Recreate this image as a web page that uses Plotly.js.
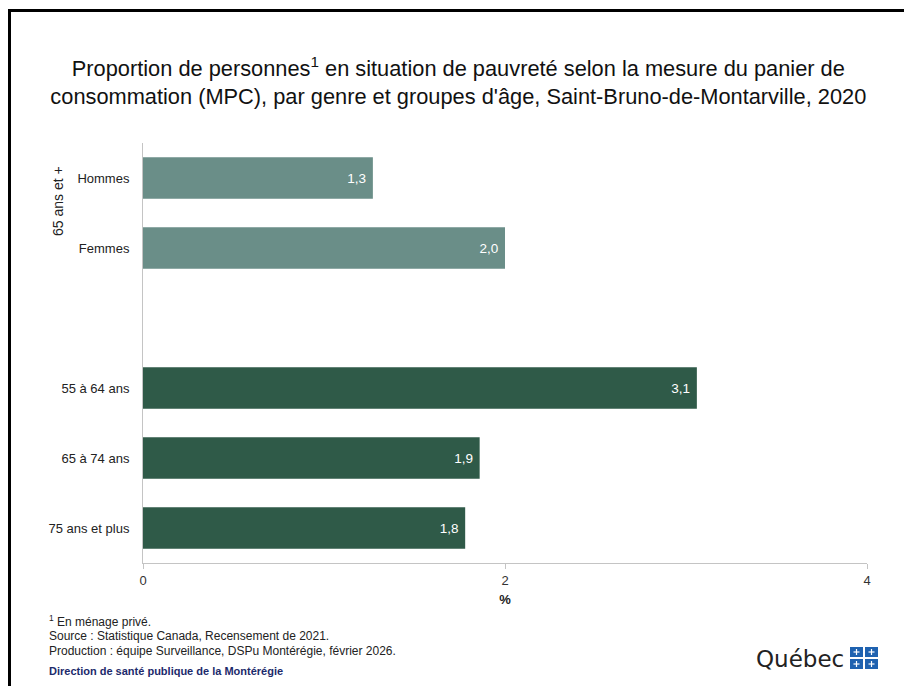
<!DOCTYPE html>
<html>
<head>
<meta charset="utf-8">
<script src="https://cdn.plot.ly/plotly-3.0.1.min.js"></script>
<style>html,body{margin:0;padding:0;background:#fff;}#chart{width:904px;height:686px;}</style>
</head>
<body>
<div id="chart"></div>
<script>
// Data
const categories = ['Hommes', 'Femmes', ' ', '55 à 64 ans', '65 à 74 ans', '75 ans et plus'];
const values = [1.27, 2.0, null, 3.06, 1.86, 1.78];
const xTicks = [0, 2, 4];
const groupLabel = '65 ans et +';
const titleText = 'Proportion de personnes<sup>1</sup> en situation de pauvreté selon la mesure du panier de<br>consommation (MPC), par genre et groupes d\'âge, Saint-Bruno-de-Montarville, 2020';
const notes = [
  '<sup>1</sup> En ménage privé.',
  'Source : Statistique Canada, Recensement de 2021.',
  'Production : équipe Surveillance, DSPu Montérégie, février 2026.'
];
const credit = 'Direction de santé publique de la Montérégie';

// Styles
const LIGHT = '#6a8e88', DARK = '#2f5a48';
const barColors = [LIGHT, LIGHT, LIGHT, DARK, DARK, DARK];
const SANS = '"Liberation Sans", Arial, sans-serif';

// pixel -> paper helpers (plot area: x 143..867, y 143..563)
const L = 143, R = 867, T = 143, B = 563;
const px = v => (v - L) / (R - L);
const py = v => (B - v) / (B - T);

const trace = {
  type: 'bar',
  orientation: 'h',
  y: categories,
  x: values,
  marker: {color: barColors, line: {width: 0}},
  width: 0.59,
  texttemplate: '%{x:.1f}\u00a0',
  textposition: 'inside',
  insidetextanchor: 'end',
  textfont: {family: SANS, size: 13.5, color: '#ffffff'},
  hoverinfo: 'skip',
  cliponaxis: false
};

const annotations = notes.map((t, i) => ({
  xref: 'paper', yref: 'paper', x: px(47), y: py(621 + 15 * i),
  xanchor: 'left', yanchor: 'middle', showarrow: false, align: 'left',
  text: t, font: {family: SANS, size: 12, color: '#222'}
}));
annotations.push({
  xref: 'paper', yref: 'paper', x: px(47), y: py(671),
  xanchor: 'left', yanchor: 'middle', showarrow: false,
  text: '<b>' + credit + '</b>', font: {family: SANS, size: 11, color: '#1c2a6b'}
});
annotations.push({
  xref: 'paper', yref: 'paper', x: px(58), y: py(201),
  xanchor: 'center', yanchor: 'middle', showarrow: false, textangle: -90,
  text: groupLabel, font: {family: SANS, size: 14, color: '#222'}
});
annotations.push({
  xref: 'paper', yref: 'paper', x: px(846), y: py(659),
  xanchor: 'right', yanchor: 'middle', showarrow: false,
  text: 'Québec', font: {family: '"DejaVu Sans", sans-serif', size: 23, color: '#222'}
});

const shapes = [
  {type: 'rect', xref: 'paper', yref: 'paper', x0: px(9.5), x1: px(1000), y0: py(10.5), y1: py(900),
   line: {color: '#000', width: 3}, fillcolor: 'rgba(0,0,0,0)', layer: 'above'}
];
// Québec flag squares
const sq = [[850, 647], [865, 647], [850, 659], [865, 659]];
sq.forEach(([x, y]) => {
  shapes.push({type: 'rect', xref: 'paper', yref: 'paper', x0: px(x), x1: px(x + 13), y0: py(y), y1: py(y + 10),
    line: {width: 0}, fillcolor: '#1f62b0'});
  shapes.push({type: 'line', xref: 'paper', yref: 'paper', x0: px(x + 6.5), x1: px(x + 6.5), y0: py(y + 2), y1: py(y + 8),
    line: {color: '#fff', width: 1.2}});
  shapes.push({type: 'line', xref: 'paper', yref: 'paper', x0: px(x + 3.5), x1: px(x + 9.5), y0: py(y + 5), y1: py(y + 5),
    line: {color: '#fff', width: 1.2}});
});

const layout = {
  width: 904, height: 686,
  margin: {l: L, r: 904 - R, t: T, b: 686 - B, pad: 0},
  paper_bgcolor: '#fff', plot_bgcolor: '#fff',
  separators: ', ',
  showlegend: false,
  title: {
    text: titleText, x: 0.507, xanchor: 'center', xref: 'container',
    y: 1 - 76 / 686, yref: 'container', yanchor: 'middle',
    font: {family: SANS, size: 21.8, color: '#111'}
  },
  xaxis: {
    range: [0, 4], tickvals: xTicks, ticktext: xTicks.map(String),
    showgrid: false, zeroline: false, showline: true, linecolor: '#c4c4c4', linewidth: 1,
    ticks: 'outside', ticklen: 5, tickcolor: '#c4c4c4',
    tickfont: {family: SANS, size: 13, color: '#333'},
    title: {text: '<b>%</b>', font: {family: SANS, size: 13, color: '#222'}, standoff: 8},
    fixedrange: true
  },
  yaxis: {
    type: 'category', categoryorder: 'array', categoryarray: categories,
    autorange: 'reversed', showgrid: false, zeroline: false,
    showline: true, linecolor: '#c4c4c4', linewidth: 1, ticks: '',
    ticklabelstandoff: 10,
    tickfont: {family: SANS, size: 13, color: '#222'},
    fixedrange: true
  },
  bargap: 0.41,
  annotations: annotations,
  shapes: shapes
};

Plotly.newPlot('chart', [trace], layout, {displayModeBar: false, staticPlot: true});
</script>
</body>
</html>
